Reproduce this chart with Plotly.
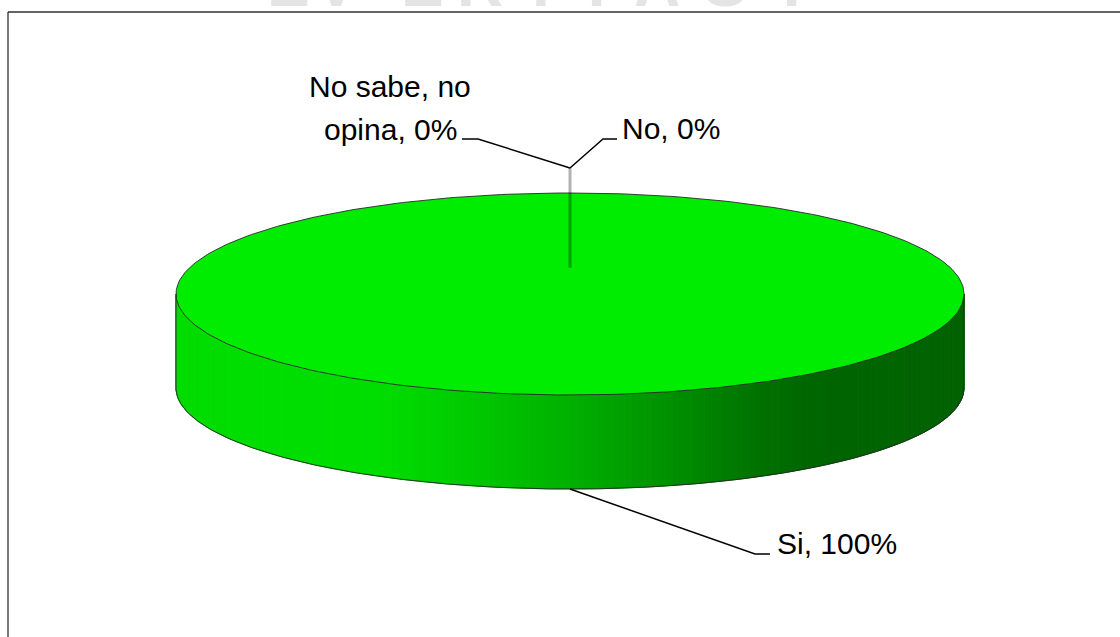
import textwrap
import numpy as np
import plotly.graph_objects as go

# Survey answers and their shares (%)
categories = ["Si", "No", "No sabe, no opina"]
values = [100, 0, 0]

# Watermark letters across the top edge
watermark_letters = ["E", "V", "E", "R", "I", "T", "A", "S", "T"]
watermark_x = [288, 336, 422, 480, 541, 596, 657, 725, 791]

W, H = 1120, 637
FONT = "Liberation Sans, Arial, sans-serif"

# 3D pie geometry (pixel space)
cx, cy = 570, 294      # centre of the top face
ra, rb = 394, 101      # ellipse semi-axes
depth = 94             # thickness of the disc

TOP_GREEN = "rgb(0,236,0)"
EDGE = "rgba(40,40,40,0.9)"


def pt(phi, dz=0.0, scale=1.0):
    """Point on the ellipse; phi measured clockwise from 12 o'clock."""
    return cx + scale * ra * np.sin(phi), cy - scale * rb * np.cos(phi) + dz


def side_shade(u):
    # horizontal shading of the rim, u = 0 (left) .. 1 (right)
    us = [0.0, 0.25, 0.33, 0.5, 0.62, 0.72, 0.8, 1.0]
    gs = [220, 222, 210, 176, 146, 118, 102, 98]
    return f"rgb(0,{int(round(np.interp(u, us, gs)))},0)"


fig = go.Figure()

total = float(sum(values))
starts = np.concatenate([[0.0], np.cumsum(values)[:-1]]) / total * 2 * np.pi
ends = np.cumsum(values) / total * 2 * np.pi
mids = (starts + ends) / 2

# Rim (front half of the disc), split into thin shaded strips
for s, e in zip(starts, ends):
    lo, hi = max(s, np.pi / 2), min(e, 3 * np.pi / 2)
    if hi <= lo:
        continue
    edges = np.linspace(lo, hi, 181)
    for p0, p1 in zip(edges[:-1], edges[1:]):
        ph = np.linspace(p0, p1, 4)
        xt, yt = pt(ph)
        xb, yb = pt(ph[::-1], depth)
        xs = np.concatenate([xt, xb, xt[:1]])
        ys = np.concatenate([yt, yb, yt[:1]])
        u = (np.mean(xt) - (cx - ra)) / (2 * ra)
        col = side_shade(u)
        fig.add_trace(go.Scatter(x=xs, y=ys, mode="lines", fill="toself",
                                 fillcolor=col, line=dict(color=col, width=1),
                                 hoverinfo="skip", showlegend=False))

# Top face slices
for s, e, name, v in zip(starts, ends, categories, values):
    if e - s <= 0:
        continue
    ph = np.linspace(s, e, 361)
    xs, ys = pt(ph)
    if e - s < 2 * np.pi - 1e-9:
        xs = np.concatenate([[cx], xs, [cx]])
        ys = np.concatenate([[cy], ys, [cy]])
    fig.add_trace(go.Scatter(x=xs, y=ys, mode="lines", fill="toself",
                             fillcolor=TOP_GREEN, line=dict(color=EDGE, width=1),
                             name=name, hoverinfo="skip", showlegend=False))

# Silhouette outline of the rim
ph = np.linspace(np.pi / 2, 3 * np.pi / 2, 300)
xb, yb = pt(ph, depth)
xr, yr = pt(np.pi / 2)
xl, yl = pt(3 * np.pi / 2)
fig.add_trace(go.Scatter(
    x=np.concatenate([[xr], xb, [xl]]),
    y=np.concatenate([[yr], yb, [yl]]),
    mode="lines", line=dict(color=EDGE, width=1),
    hoverinfo="skip", showlegend=False))

# Labels with leader lines
label_font = dict(family=FONT, size=30, color="black")
LINE_STEP = 43
zero_done = False
for name, v, m in zip(categories, values, mids):
    label = f"{name}, {v:.0f}%"
    if v > 0:
        # anchor on the lower edge of the disc
        ax_, ay_ = pt(m, depth)
        ex, ey = ax_ + 185, ay_ + 65
        tx = ex + 15
        fig.add_trace(go.Scatter(x=[ax_, ex, tx], y=[ay_, ey, ey], mode="lines",
                                 line=dict(color="black", width=1.5),
                                 hoverinfo="skip", showlegend=False))
        fig.add_annotation(x=tx + 5, y=ey - 10.5, xref="x", yref="y",
                           text=label, showarrow=False,
                           xanchor="left", yanchor="middle", font=label_font)
    else:
        ax_, ay_ = pt(m)
        jx, jy = ax_, ay_ - 25
        if not zero_done:
            # thin edge of the empty slices
            fig.add_trace(go.Scatter(x=[jx, jx], y=[jy, cy - 0.26 * rb], mode="lines",
                                     line=dict(color="rgba(0,0,0,0.3)", width=3),
                                     hoverinfo="skip", showlegend=False))
            zero_done = True
        if name == "No":
            ex, ey = jx + 33, jy - 29
            tx = ex + 14
            fig.add_trace(go.Scatter(x=[jx, ex, tx], y=[jy, ey, ey], mode="lines",
                                     line=dict(color="black", width=1.5),
                                     hoverinfo="skip", showlegend=False))
            fig.add_annotation(x=tx + 3, y=ey - 10.5, xref="x", yref="y",
                               text=label, showarrow=False,
                               xanchor="left", yanchor="middle", font=label_font)
        else:
            ex, ey = jx - 92, jy - 29
            tx = ex - 16
            fig.add_trace(go.Scatter(x=[jx, ex, tx], y=[jy, ey, ey], mode="lines",
                                     line=dict(color="black", width=1.5),
                                     hoverinfo="skip", showlegend=False))
            lines = textwrap.wrap(label, 11)
            centre = tx - 5 - 67
            n = len(lines)
            for k, line in enumerate(lines):
                fig.add_annotation(x=centre, y=ey + 1 - 10.5 - LINE_STEP * (n - 1 - k),
                                   xref="x", yref="y", text=line, showarrow=False,
                                   xanchor="center", yanchor="middle", font=label_font)

# Faint watermark along the top edge
for ch, x in zip(watermark_letters, watermark_x):
    fig.add_annotation(x=x, y=22, xref="x", yref="y", text=f"<b>{ch}</b>",
                       showarrow=False, xanchor="center", yanchor="bottom",
                       font=dict(family=FONT, size=64, color="rgb(228,228,228)"))

# Chart frame (top and left edges visible)
fig.add_shape(type="line", xref="x", yref="y", x0=8, x1=W + 5, y0=12, y1=12,
              line=dict(color="rgb(100,100,100)", width=2))
fig.add_shape(type="line", xref="x", yref="y", x0=8, x1=8, y0=12, y1=H + 5,
              line=dict(color="rgb(30,30,30)", width=1.2))

fig.update_xaxes(range=[0, W], visible=False, fixedrange=True)
fig.update_yaxes(range=[H, 0], visible=False, fixedrange=True)
fig.update_layout(width=W, height=H, margin=dict(l=0, r=0, t=0, b=0),
                  paper_bgcolor="white", plot_bgcolor="white", showlegend=False)

fig.write_html("out.html")
